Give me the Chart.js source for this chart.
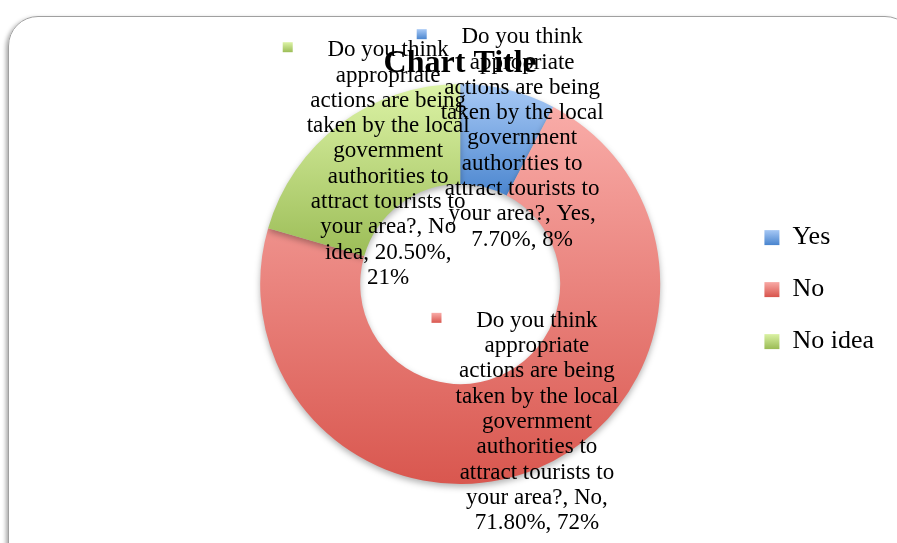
<!DOCTYPE html>
<html>
<head>
<meta charset="utf-8">
<script src="https://cdn.jsdelivr.net/npm/chart.js@4/dist/chart.umd.min.js"></script>
<style>
  body { margin: 0; background: #fff; }
  #wrap { position: relative; width: 897px; height: 543px; overflow: hidden; }
  #frame { position: absolute; left: 8px; top: 16px; width: 905px; height: 580px;
    border: 1.5px solid #a0a0a0; border-radius: 30px; box-shadow: -2px 2px 4px rgba(0,0,0,.35); }
  #chart { position: absolute; left: 0; top: 0; }
</style>
</head>
<body>
<div id="wrap">
  <div id="frame"></div>
  <canvas id="chart" width="897" height="543"></canvas>
</div>
<script>
// data
var categories = ['Yes', 'No', 'No idea'];
var percents = [7.7, 71.8, 20.5];
var questionLines = ['Do you think', 'appropriate', 'actions are being', 'taken by the local',
  'government', 'authorities to', 'attract tourists to'];
var questionEnd = 'your area?';

// gradient colours, top -> bottom
var topColors = ['#a9caf6', '#f9aca8', '#dcf3a6'];
var bottomColors = ['#4b86cf', '#d9574f', '#9cbd57'];

var labelFont = '23px "Liberation Serif", serif';
var lineH = 25.3;

function wrap(ctx, text, maxW) {
  var words = text.split(' '), lines = [], cur = '';
  words.forEach(function (w) {
    var t = cur ? cur + ' ' + w : w;
    if (ctx.measureText(t).width > maxW && cur) { lines.push(cur); cur = w; }
    else cur = t;
  });
  if (cur) lines.push(cur);
  return lines;
}

function grad(ctx, i, y0, y1) {
  var g = ctx.createLinearGradient(0, y0, 0, y1);
  g.addColorStop(0, topColors[i]);
  g.addColorStop(1, bottomColors[i]);
  return g;
}

var gradientPlugin = {
  id: 'grad',
  beforeDatasetsDraw: function (chart) {
    var ctx = chart.ctx;
    chart.getDatasetMeta(0).data.forEach(function (arc, i) {
      var p = arc.getProps(['x', 'y', 'startAngle', 'endAngle', 'innerRadius', 'outerRadius']);
      var ymin = 1e9, ymax = -1e9;
      for (var k = 0; k <= 40; k++) {
        var a = p.startAngle + (p.endAngle - p.startAngle) * k / 40;
        [p.innerRadius, p.outerRadius].forEach(function (r) {
          var y = p.y + r * Math.sin(a);
          ymin = Math.min(ymin, y); ymax = Math.max(ymax, y);
        });
      }
      arc.options.backgroundColor = grad(ctx, i, ymin, ymax);
    });
    ctx.save();
    ctx.shadowColor = 'rgba(0,0,0,0.3)';
    ctx.shadowBlur = 6;
    ctx.shadowOffsetY = 3;
  },
  afterDatasetsDraw: function (chart) {
    var ctx = chart.ctx;
    ctx.restore();
    ctx.save();
    ctx.font = labelFont;
    ctx.textAlign = 'center';
    ctx.textBaseline = 'middle';
    var maxW = ctx.measureText('attract tourists to').width + 1;
    chart.getDatasetMeta(0).data.forEach(function (arc, i) {
      var pos = arc.tooltipPosition();
      var v = percents[i];
      var tail = questionEnd + ', ' + categories[i] + ', ' + v.toFixed(2) + '%, ' + Math.round(v) + '%';
      var lines = questionLines.concat(wrap(ctx, tail, maxW));
      var cx = pos.x + (i === 0 ? 26 : 18);
      var y0 = pos.y - (lines.length - 1) * lineH / 2;
      var widest = 0;
      lines.forEach(function (l) { widest = Math.max(widest, ctx.measureText(l).width); });
      var mx = cx - widest / 2 - 24;
      ctx.fillStyle = grad(ctx, i, y0 - 8, y0 + 2);
      ctx.fillRect(mx, y0 - 8, 10, 10);
      ctx.fillStyle = '#000';
      lines.forEach(function (l, k) { ctx.fillText(l, cx, y0 + k * lineH); });
    });
    ctx.restore();
  },
  afterDraw: function (chart) {
    // repaint legend boxes with the gradient fill
    var ctx = chart.ctx;
    chart.legend.legendHitBoxes.forEach(function (b, i) {
      ctx.fillStyle = '#fff';
      ctx.fillRect(b.left - 1, b.top - 1, 17, 28);
      ctx.fillStyle = grad(ctx, i, b.top + 5, b.top + 20);
      ctx.fillRect(b.left, b.top + 5.5, 15, 15);
    });
  }
};

new Chart(document.getElementById('chart').getContext('2d'), {
  type: 'doughnut',
  data: {
    labels: categories,
    datasets: [{
      data: percents,
      backgroundColor: function (c) { return bottomColors[c.dataIndex]; },
      borderWidth: 0
    }]
  },
  options: {
    responsive: false,
    animation: false,
    cutout: '50%',
    layout: { padding: { top: 45, bottom: 59, left: 182, right: 13 } },
    plugins: {
      title: {
        display: true,
        fullSize: false,
        text: 'Chart Title',
        color: '#000',
        font: { family: '"Liberation Serif", serif', size: 32, weight: 'bold' },
        padding: { top: 0, bottom: 0.6 }
      },
      legend: {
        position: 'right',
        title: {
          display: true,
          text: ' ',
          font: { size: 26 },
          padding: { top: 0, bottom: 19 }
        },
        labels: {
          color: '#000',
          font: { family: '"Liberation Serif", serif', size: 26 },
          boxWidth: 15,
          boxHeight: 15,
          padding: 26,
          generateLabels: function (chart) {
            return categories.map(function (c, i) {
              return { text: c, fillStyle: bottomColors[i], strokeStyle: bottomColors[i],
                fontColor: '#000', lineWidth: 0, index: i };
            });
          }
        }
      },
      tooltip: { enabled: false }
    }
  },
  plugins: [gradientPlugin]
});
</script>
</body>
</html>
